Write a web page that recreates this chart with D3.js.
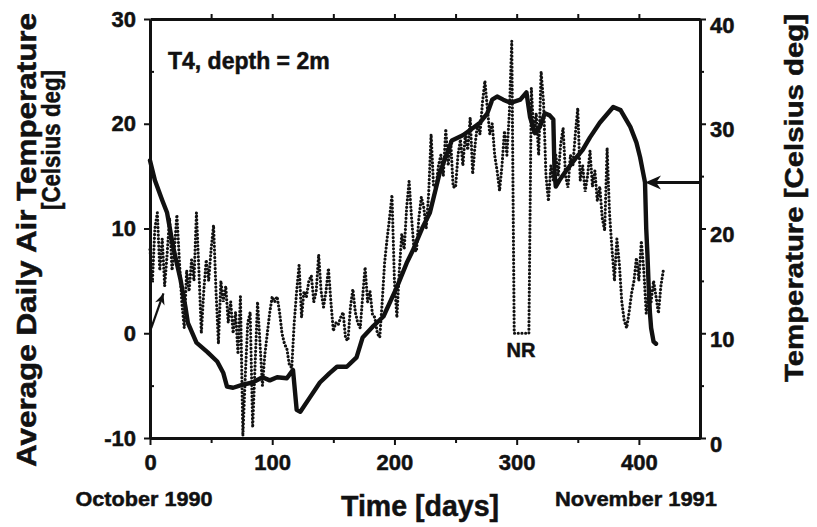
<!DOCTYPE html>
<html>
<head>
<meta charset="utf-8">
<script src="https://cdn.jsdelivr.net/npm/d3@7"></script>
<style>
  html, body { margin: 0; padding: 0; background: #fff; }
  svg { display: block; font-family: "Liberation Sans", Arial, Helvetica, sans-serif; font-weight: bold; }
  svg text { stroke: #111; stroke-width: 0.5px; }
</style>
</head>
<body>
<svg id="chart" width="817" height="527"></svg>
<script>
// Soil temperature, sensor T4 at 2 m depth (right axis), days since October 1990
const soilDays = [0,4,10,14,19,25,29,31,38,47,55,60,63,68,76,84,92,98,104,112,117,120,123,131,139,147,153,161,169,174,182,191,202,210,215,223,229,237,247,256,262,270,276,280,284,289,295,303,308,311,315,319,323,327,330,331,332,335,341,349,354,360,368,379,385,393,398,401,403,405,406,407,408,409,410,412,414];
const soilTemp = [26.5,24.6,22.7,21.5,18.2,15.1,12.5,11.0,9.1,8.2,7.3,6.2,4.9,4.8,5.1,5.3,5.8,5.5,5.8,5.7,6.5,2.7,2.5,3.9,5.3,6.2,6.8,6.8,7.7,9.6,10.6,11.6,14.4,16.7,17.9,20.1,21.5,25.3,28.4,28.9,29.4,30.1,31.0,32.3,32.6,32.3,32.0,32.3,33.0,30.6,29.1,29.7,31.0,30.8,30.4,25.3,24.0,24.6,25.6,26.8,27.5,28.7,30.1,31.6,31.3,29.7,28.2,26.8,25.6,24.4,20.0,17.5,14.5,12.0,10.5,9.2,9.0];

// Average daily air temperature (left axis), one reading every 2 days from day 0;
// the stretch plotted at 0 between days 298 and 310 was not recorded (NR)
const airStartDay = 0;
const airStepDays = 2;
const airTemp = [
  8, 5, 10, 11.5, 6, 9, 4.5, 7.5, 11, 6, 8, 11.3, 7, 3, 0.5,
  6, 4, 7, 5, 11.5, 6, 0, 4, 7, 5, 8, 10.3, 4, -1, 5,
  3, 4.5, 1, 3, 0, 2, -2, 3.5, -9.8, -4, 1, 2, -9, -3, 3,
  -1, -5, -2, 0, 2, 3.5, 3, 3.5, 2, 0, -1, -1.5, -3, -3.3, 1,
  4, 6.5, 1.5, 4, 3.5, 5, 5.5, 3, 4, 7.5, 4, 2.5, 4, 6.2, 3,
  0.2, 1, 0.8, 1.5, 2, -0.5, -0.7, 2.5, 4.2, 2, 1, 0.5, 3.5, 6.3, 3,
  4, 1.8, 1.5, 0, -0.4, 3, 6.8, 9, 11, 13.2, 5, 1.5, 6, 9.5, 8,
  12, 14.5, 11, 8, 7.8, 11, 13, 12, 10, 13.3, 19, 14, 13.9, 16, 17,
  15, 19.5, 16, 18.4, 14, 13.9, 17, 18.5, 16, 19, 17.5, 20.6, 15.2, 18, 20,
  19, 22, 24.1, 21.5, 19, 20, 17, 15.5, 13.6, 16, 19.3, 17, 21, 27.9, 0,
  0, 0, 0, 0, 0, 0, 23.4, 19, 21, 17, 25, 22, 15, 12.6, 16,
  14.6, 17, 15, 18, 19.6, 15, 13.9, 17, 16, 19, 21.5, 14.6, 16, 13.5, 15,
  17.4, 14, 15.5, 12.6, 14, 11, 9.8, 17.7, 11.4, 8, 5, 9, 6.6, 3, 1.2,
  0.5, 2, 3.8, 5, 7.2, 5, 8.8, 6, 1.9, 4, 3, 5, 3.5, 1.9, 4.5, 6
];

// Not-recorded gap (days) and the axis pointers
const nrGap = [296, 311];
const leftPointer = { fromDay: 1, fromValue: 0.5, toDay: 11, toValue: 3.8 };
const rightPointer = { fromDay: 450, toDay: 405, value: 24.4 };

// Axis ticks
const xTicks = [0, 100, 200, 300, 400];
const xMinorTicks = [50, 150, 250, 350];
const xTopTicks = [50, 100, 150, 200, 250, 300, 350, 400];
const leftTicks = [-10, 0, 10, 20, 30];
const leftMinorTicks = [-5, 5, 15, 25];
const rightTicks = [0, 10, 20, 30, 40];
const rightMinorTicks = [5, 15, 25, 35];

const svg = d3.select("#chart");
const plot = { left: 150, right: 700, top: 19, bottom: 438 };

const x = d3.scaleLinear().domain([0, 450]).range([plot.left, plot.right]);
const yL = d3.scaleLinear().domain([-10, 30]).range([plot.bottom, plot.top]);
const yR = d3.scaleLinear().domain([0, 40]).range([plot.bottom, plot.top]);

const ink = "#111";

function styleAxis(g, fontSize) {
  g.selectAll(".domain").attr("stroke", ink).attr("stroke-width", 3);
  g.selectAll(".tick line").attr("stroke", ink).attr("stroke-width", 2);
  g.selectAll(".tick text").attr("fill", ink)
    .attr("font-size", fontSize).attr("font-weight", "bold")
    .attr("font-family", "'Liberation Sans', Arial, Helvetica, sans-serif");
}

// Air temperature (dotted)
const airData = airTemp.map((v, i) => ({ day: airStartDay + i * airStepDays, v }));
svg.append("path")
  .datum(airData)
  .attr("fill", "none")
  .attr("stroke", ink)
  .attr("stroke-width", 3.1)
  .attr("stroke-linecap", "round")
  .attr("stroke-dasharray", "0.1,3.6")
  .attr("d", d3.line().x(d => x(d.day)).y(d => yL(d.v)));

// Soil temperature (solid)
const soilData = soilDays.map((d, i) => ({ day: d, v: soilTemp[i] }));
svg.append("path")
  .datum(soilData)
  .attr("fill", "none")
  .attr("stroke", ink)
  .attr("stroke-width", 4.4)
  .attr("stroke-linejoin", "round")
  .attr("stroke-linecap", "round")
  .attr("d", d3.line().x(d => x(d.day)).y(d => yR(d.v)));

// Axes
const fmt = d => String(d);
const tickFont = 22;
const gB = svg.append("g").attr("transform", `translate(0,${plot.bottom})`)
  .call(d3.axisBottom(x).tickValues(xTicks).tickFormat(fmt).tickSize(7).tickSizeOuter(0).tickPadding(9));
styleAxis(gB, tickFont);
const gBm = svg.append("g").attr("transform", `translate(0,${plot.bottom})`)
  .call(d3.axisBottom(x).tickValues(xMinorTicks).tickFormat("").tickSize(5).tickSizeOuter(0));
styleAxis(gBm, tickFont);

const gT = svg.append("g").attr("transform", `translate(0,${plot.top})`)
  .call(d3.axisTop(x).tickValues(xTopTicks).tickFormat("").tickSize(5).tickSizeOuter(0));
styleAxis(gT, tickFont);

const gL = svg.append("g").attr("transform", `translate(${plot.left},0)`)
  .call(d3.axisLeft(yL).tickValues(leftTicks).tickFormat(fmt).tickSize(6).tickSizeOuter(0).tickPadding(8));
styleAxis(gL, tickFont);
const gLm = svg.append("g").attr("transform", `translate(${plot.left},0)`)
  .call(d3.axisLeft(yL).tickValues(leftMinorTicks).tickFormat("").tickSize(-4).tickSizeOuter(0));
styleAxis(gLm, tickFont);

const gR = svg.append("g").attr("transform", `translate(${plot.right},0)`)
  .call(d3.axisRight(yR).tickValues(rightTicks).tickFormat(fmt).tickSize(6).tickSizeOuter(0).tickPadding(4));
styleAxis(gR, tickFont);
gR.selectAll(".tick text").attr("dy", "0.6em");
const gRm = svg.append("g").attr("transform", `translate(${plot.right},0)`)
  .call(d3.axisRight(yR).tickValues(rightMinorTicks).tickFormat("").tickSize(4).tickSizeOuter(0));
styleAxis(gRm, tickFont);

// Pointers to the axes each curve uses
function arrowHead(tipX, tipY, angle, len, half) {
  const c = Math.cos(angle), s = Math.sin(angle);
  const bx = tipX - c * len, by = tipY - s * len;
  return `M${tipX},${tipY}L${bx - s * half},${by + c * half}L${bx + c * len * 0.3},${by + s * len * 0.3}L${bx + s * half},${by - c * half}Z`;
}
{
  const x1 = x(leftPointer.fromDay), y1 = yL(leftPointer.fromValue);
  const x2 = x(leftPointer.toDay), y2 = yL(leftPointer.toValue);
  svg.append("line").attr("x1", x1).attr("y1", y1).attr("x2", x2).attr("y2", y2)
    .attr("stroke", ink).attr("stroke-width", 2.2);
  svg.append("path").attr("d", arrowHead(x2, y2, Math.atan2(y2 - y1, x2 - x1), 11, 5)).attr("fill", ink);
}
{
  const x1 = x(rightPointer.fromDay), x2 = x(rightPointer.toDay), yy = yR(rightPointer.value);
  svg.append("line").attr("x1", x1).attr("y1", yy).attr("x2", x2 + 4).attr("y2", yy)
    .attr("stroke", ink).attr("stroke-width", 3);
  svg.append("path").attr("d", arrowHead(x2, yy, Math.PI, 16, 7)).attr("fill", ink);
}

// NR label under the gap
svg.append("text")
  .attr("x", x((nrGap[0] + nrGap[1]) / 2)).attr("y", yL(0) + 24)
  .attr("text-anchor", "middle").attr("font-size", 20).attr("fill", ink)
  .text("NR");

// Panel label
svg.append("text").attr("x", 168).attr("y", 69)
  .attr("font-size", 23).attr("fill", ink).text("T4, depth = 2m");

// Axis titles
svg.append("text")
  .attr("transform", "translate(36,240) rotate(-90)")
  .attr("text-anchor", "middle").attr("font-size", 28).attr("fill", ink)
  .attr("textLength", 454).attr("lengthAdjust", "spacingAndGlyphs")
  .text("Average Daily Air Temperature");
svg.append("text")
  .attr("transform", "translate(60,140) rotate(-90)")
  .attr("text-anchor", "middle").attr("font-size", 25).attr("fill", ink)
  .attr("textLength", 140).attr("lengthAdjust", "spacingAndGlyphs")
  .text("[Celsius deg]");
svg.append("text")
  .attr("transform", "translate(803,198) rotate(-90)")
  .attr("text-anchor", "middle").attr("font-size", 26).attr("fill", ink)
  .attr("textLength", 368).attr("lengthAdjust", "spacingAndGlyphs")
  .text("Temperature [Celsius deg]");

// Time axis captions
svg.append("text").attr("x", 144).attr("y", 506)
  .attr("text-anchor", "middle").attr("font-size", 21).attr("fill", ink)
  .attr("textLength", 137).attr("lengthAdjust", "spacingAndGlyphs")
  .text("October 1990");
svg.append("text").attr("x", 420).attr("y", 516)
  .attr("text-anchor", "middle").attr("font-size", 30).attr("fill", ink)
  .attr("textLength", 158).attr("lengthAdjust", "spacingAndGlyphs")
  .text("Time [days]");
svg.append("text").attr("x", 636).attr("y", 506)
  .attr("text-anchor", "middle").attr("font-size", 21).attr("fill", ink)
  .attr("textLength", 162).attr("lengthAdjust", "spacingAndGlyphs")
  .text("November 1991");
</script>
</body>
</html>
